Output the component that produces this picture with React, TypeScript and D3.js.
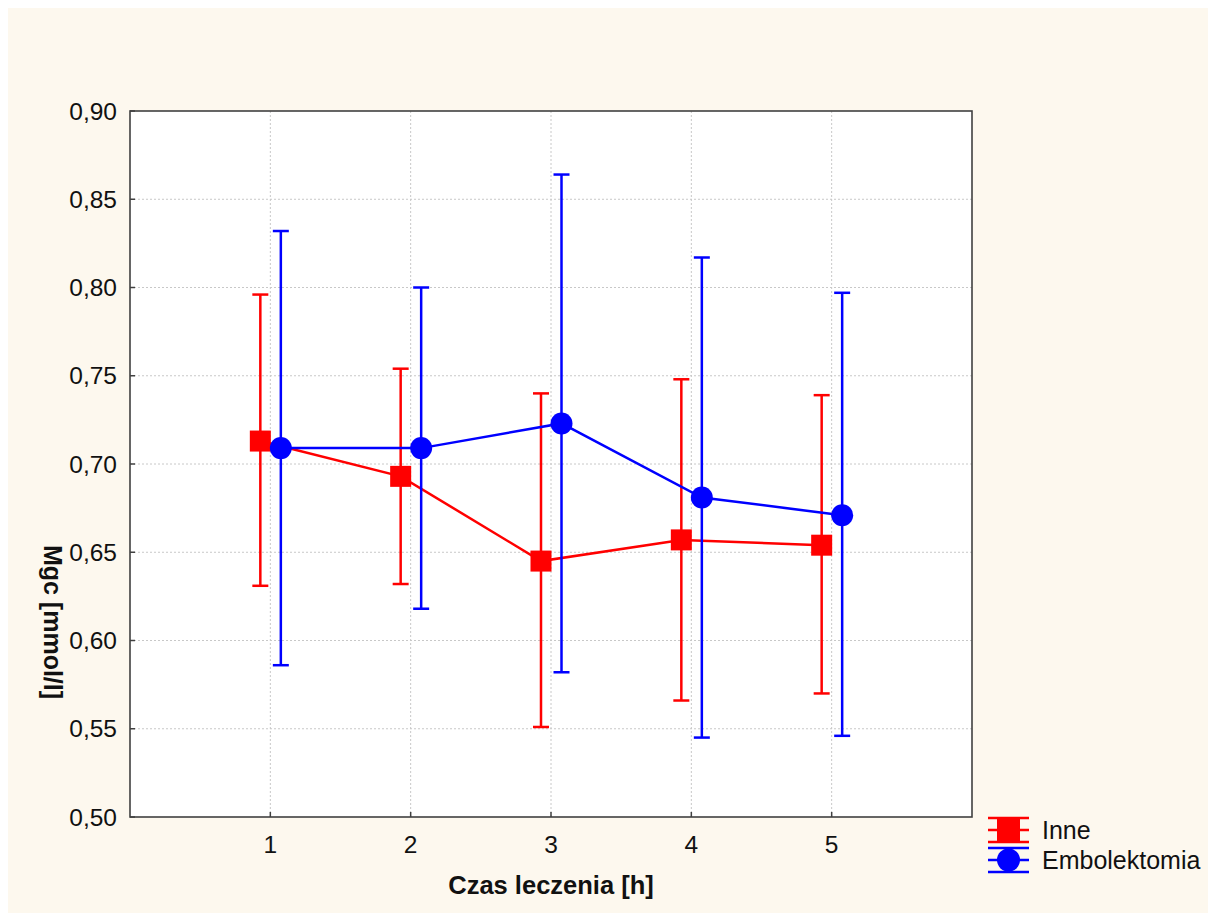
import React from "react";
import * as d3 from "d3";

const times = [1, 2, 3, 4, 5];
const inneMean = [0.713, 0.693, 0.645, 0.657, 0.654];
const inneLow = [0.631, 0.632, 0.551, 0.566, 0.570];
const inneHigh = [0.796, 0.754, 0.740, 0.748, 0.739];
const embMean = [0.709, 0.709, 0.723, 0.681, 0.671];
const embLow = [0.586, 0.618, 0.582, 0.545, 0.546];
const embHigh = [0.832, 0.800, 0.864, 0.817, 0.797];
const yTicks = [0.5, 0.55, 0.6, 0.65, 0.7, 0.75, 0.8, 0.85, 0.9];
const xTicks = [1, 2, 3, 4, 5];
const seriesNames = ["Inne", "Embolektomia"];

const FONT = "'Liberation Sans', Arial, sans-serif";

export default function App() {
  const L = 130, R = 972, T = 111, B = 817;
  const x = d3.scaleLinear().domain([0, 6]).range([L, R]);
  const y = d3.scaleLinear().domain([0.5, 0.9]).range([B, T]);
  const fmt = (v: number) => v.toFixed(2).replace(".", ",");
  const line = d3.line<[number, number]>().x((d) => d[0]).y((d) => d[1]);

  const series = [
    { name: seriesNames[0], color: "#ff0000", mean: inneMean, lo: inneLow, hi: inneHigh, off: -10, shape: "square" },
    { name: seriesNames[1], color: "#0000ff", mean: embMean, lo: embLow, hi: embHigh, off: 10.5, shape: "circle" },
  ];
  const cap = 8;

  return (
    <svg width={1200} height={905} style={{ display: "block", position: "absolute", left: 8, top: 8 }}>
      <g transform="translate(-8,-8)">
        <rect x={8} y={8} width={1200} height={905} fill="#fdf8ee" />
        <rect x={L} y={T} width={R - L} height={B - T} fill="#ffffff" />
        {yTicks.slice(1, -1).map((t) => (
          <line key={"gy" + t} x1={L} x2={R} y1={y(t)} y2={y(t)} stroke="#c8c8c8" strokeWidth={1} strokeDasharray="2,2" />
        ))}
        {xTicks.map((t) => (
          <line key={"gx" + t} x1={x(t)} x2={x(t)} y1={T} y2={B} stroke="#c8c8c8" strokeWidth={1} strokeDasharray="2,2" />
        ))}
        {yTicks.map((t) => (
          <line key={"ty" + t} x1={L} x2={L + 5} y1={y(t)} y2={y(t)} stroke="#404040" strokeWidth={1.5} />
        ))}
        {xTicks.map((t) => (
          <line key={"tx" + t} x1={x(t)} x2={x(t)} y1={B} y2={B - 5} stroke="#404040" strokeWidth={1.5} />
        ))}
        <rect x={L} y={T} width={R - L} height={B - T} fill="none" stroke="#404040" strokeWidth={1.6} />
        {yTicks.map((t) => (
          <text key={"ly" + t} x={117} y={y(t)} textAnchor="end" dominantBaseline="central" fontFamily={FONT} fontSize={24.5} fill="#111">
            {fmt(t)}
          </text>
        ))}
        {xTicks.map((t) => (
          <text key={"lx" + t} x={x(t)} y={853} textAnchor="middle" fontFamily={FONT} fontSize={24.5} fill="#111">
            {t}
          </text>
        ))}
        <text x={551} y={894} textAnchor="middle" fontFamily={FONT} fontSize={25.5} fontWeight="bold" fill="#111">
          Czas leczenia [h]
        </text>
        <text transform="translate(53,622) rotate(90)" textAnchor="middle" dominantBaseline="central" fontFamily={FONT} fontSize={25} fontWeight="bold" fill="#111">
          Mgc [mmol/l]
        </text>
        {series.map((s) => {
          const pts: [number, number][] = times.map((t, i) => [x(t) + s.off, y(s.mean[i])]);
          return (
            <g key={s.name}>
              {times.map((t, i) => {
                const cx = x(t) + s.off;
                return (
                  <g key={i} stroke={s.color} strokeWidth={2.5}>
                    <line x1={cx} x2={cx} y1={y(s.lo[i])} y2={y(s.hi[i])} />
                    <line x1={cx - cap} x2={cx + cap} y1={y(s.lo[i])} y2={y(s.lo[i])} />
                    <line x1={cx - cap} x2={cx + cap} y1={y(s.hi[i])} y2={y(s.hi[i])} />
                  </g>
                );
              })}
              <path d={line(pts) || ""} fill="none" stroke={s.color} strokeWidth={2.5} />
              {pts.map((p, i) =>
                s.shape === "square" ? (
                  <rect key={i} x={p[0] - 10.5} y={p[1] - 10.5} width={21} height={21} fill={s.color} />
                ) : (
                  <circle key={i} cx={p[0]} cy={p[1]} r={11} fill={s.color} />
                )
              )}
            </g>
          );
        })}
        {series.map((s, i) => {
          const cy = i === 0 ? 830 : 860;
          const x1 = 988, x2 = 1029, cx = (x1 + x2) / 2;
          return (
            <g key={"lg" + s.name}>
              <g stroke={s.color} strokeWidth={2.5}>
                <line x1={x1} x2={x2} y1={cy - 12} y2={cy - 12} />
                <line x1={x1} x2={x2} y1={cy} y2={cy} />
                <line x1={x1} x2={x2} y1={cy + 12} y2={cy + 12} />
              </g>
              {s.shape === "square" ? (
                <rect x={cx - 11.5} y={cy - 12} width={23} height={24} fill={s.color} />
              ) : (
                <circle cx={cx} cy={cy} r={11.5} fill={s.color} />
              )}
              <text x={1042} y={cy} dominantBaseline="central" fontFamily={FONT} fontSize={25} fill="#111">
                {s.name}
              </text>
            </g>
          );
        })}
      </g>
    </svg>
  );
}
